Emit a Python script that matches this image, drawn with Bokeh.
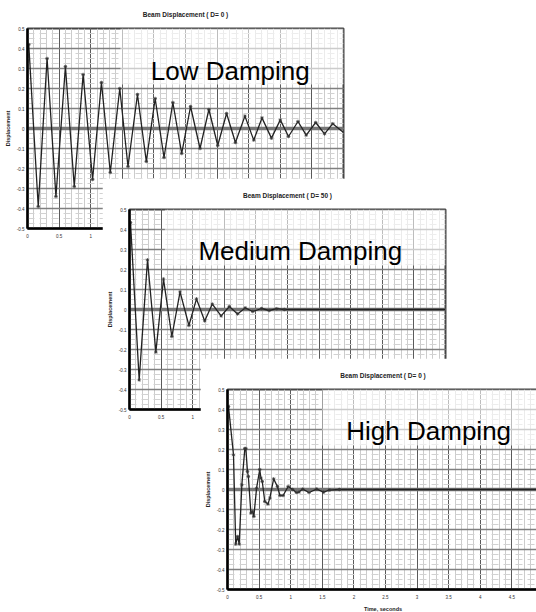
from bokeh.plotting import figure
from bokeh.models import FixedTicker, Span, Label, BoxAnnotation, Column
from bokeh.embed import file_html
from bokeh.resources import INLINE

# ---- data ----
t_low = [0.0, 0.02, 0.17, 0.31, 0.45, 0.60, 0.74, 0.88, 1.03, 1.17, 1.31, 1.46, 1.59, 1.74,
         1.88, 2.02, 2.16, 2.30, 2.44, 2.58, 2.73, 2.87, 3.01, 3.15, 3.29, 3.44, 3.58, 3.71,
         3.86, 4.00, 4.13, 4.28, 4.41, 4.56, 4.70, 4.83, 5.0]
y_low = [0.40, 0.42, -0.39, 0.35, -0.34, 0.31, -0.29, 0.27, -0.255, 0.23, -0.22, 0.20, -0.19, 0.17,
         -0.165, 0.15, -0.145, 0.13, -0.125, 0.11, -0.10, 0.095, -0.085, 0.075, -0.07, 0.062, -0.058, 0.053,
         -0.048, 0.043, -0.04, 0.035, -0.033, 0.03, -0.027, 0.024, -0.02]

t_med = [0.0, 0.016, 0.153, 0.285, 0.417, 0.538, 0.67, 0.80, 0.94, 1.06, 1.19, 1.31, 1.45, 1.58,
         1.71, 1.83, 1.95, 2.09, 2.21, 2.33, 2.45, 5.0]
y_med = [0.42, 0.435, -0.352, 0.248, -0.213, 0.152, -0.135, 0.088, -0.08, 0.053, -0.057, 0.027, -0.032, 0.015,
         -0.022, 0.008, -0.01, 0.005, -0.005, 0.004, 0.0, 0.0]

t_high = [0.0, 0.016, 0.095, 0.13, 0.16, 0.185, 0.227, 0.274, 0.29, 0.316, 0.33, 0.37, 0.396, 0.417,
          0.46, 0.51, 0.53, 0.55, 0.59, 0.64, 0.67, 0.73, 0.79, 0.83, 0.88, 0.96, 1.03, 1.09, 1.13,
          1.19, 1.29, 1.41, 1.52, 1.61, 1.77, 5.0]
y_high = [0.40, 0.415, 0.173, -0.273, -0.235, -0.273, 0.023, 0.205, 0.205, 0.09, 0.065, -0.118, -0.11, -0.135,
          0.007, 0.10, 0.057, 0.04, -0.06, -0.073, -0.043, 0.053, 0.015, -0.03, -0.03, 0.015, 0.0, -0.015, -0.013,
          0.002, -0.015, 0.002, -0.013, -0.003, 0.0, 0.0]

x_ticks = [0, 0.5, 1, 1.5, 2, 2.5, 3, 3.5, 4, 4.5, 5]
x_tick_labels = ["0", "0.5", "1", "1.5", "2", "2.5", "3", "3.5", "4", "4.5", "5"]
y_ticks = [-0.5, -0.4, -0.3, -0.2, -0.1, 0, 0.1, 0.2, 0.3, 0.4, 0.5]
y_tick_labels = ["-0.5", "-0.4", "-0.3", "-0.2", "-0.1", "0", "0.1", "0.2", "0.3", "0.4", "0.5"]

titles = ["Beam Displacement ( D= 0 )", "Beam Displacement ( D= 50 )", "Beam Displacement ( D= 0 )"]
labels = ["Low Damping", "Medium Damping", "High Damping"]

NARROW = "'Liberation Sans Narrow', 'Liberation Sans', Arial, sans-serif"
x_minor = [round(i * 0.1, 2) for i in range(0, 51)]
y_minor = [round(i * 0.025, 3) for i in range(-20, 21)]


def make_chart(title, title_off, t, y, label, lab_x, lab_y, fade_left, frame_w, x_end,
               left, bottom, right):
    p = figure(output_backend="svg", toolbar_location=None,
               frame_width=frame_w, frame_height=200,
               x_range=(0, x_end), y_range=(-0.5, 0.5),
               min_border_left=left, min_border_top=31,
               min_border_bottom=bottom, min_border_right=right,
               title=title)
    p.background_fill_color = "white"
    p.border_fill_color = "white"
    p.outline_line_color = "#444444"
    p.outline_line_width = 2

    p.title.text_font = NARROW
    p.title.text_font_size = "6.5px"
    p.title.text_font_style = "bold"
    p.title.text_color = "#222222"
    p.title.align = "center"
    p.title.standoff = 21
    p.title.offset = title_off

    p.xaxis.ticker = FixedTicker(ticks=x_ticks, minor_ticks=x_minor)
    p.yaxis.ticker = FixedTicker(ticks=y_ticks, minor_ticks=y_minor)
    p.xaxis.major_label_overrides = dict(zip(x_ticks, x_tick_labels))
    p.yaxis.major_label_overrides = dict(zip(y_ticks, y_tick_labels))
    for ax in (p.xaxis, p.yaxis):
        ax.axis_line_color = "black"
        ax.axis_line_width = 2.5
        ax.major_tick_line_color = None
        ax.minor_tick_line_color = None
        ax.major_tick_out = 0
        ax.major_tick_in = 0
        ax.minor_tick_out = 0
        ax.minor_tick_in = 0
        ax.major_label_text_font = NARROW
        ax.major_label_text_font_size = "4.5px"
        ax.major_label_text_color = "#333333"
        ax.axis_label_text_font = NARROW
        ax.axis_label_text_font_size = "5.5px"
        ax.axis_label_text_font_style = "bold"
        ax.axis_label_text_color = "#222222"
    p.yaxis.major_label_standoff = 3
    p.yaxis.axis_label_standoff = 3
    p.xaxis.major_label_standoff = 5
    p.xaxis.axis_label_standoff = 4
    p.yaxis.axis_label = "Displacement"
    p.xaxis.axis_label = "Time, seconds"

    p.xgrid.grid_line_color = "#5a5a5a"
    p.xgrid.grid_line_width = 1
    p.ygrid.grid_line_color = "#808080"
    p.ygrid.grid_line_width = 1.6
    p.xgrid.minor_grid_line_color = "#cccccc"
    p.xgrid.minor_grid_line_width = 1
    p.ygrid.minor_grid_line_color = "#d2d2d2"
    p.ygrid.minor_grid_line_width = 1
    p.ygrid.minor_grid_line_dash = "7 5"

    fade = BoxAnnotation(left=fade_left, right=5, bottom=0.22, top=0.5,
                         fill_color="white", fill_alpha=0.6, line_color=None,
                         level="underlay")
    p.add_layout(fade)
    p.add_layout(Span(location=0, dimension="width", line_color="#777777",
                      line_width=3.5, level="underlay"))

    p.line(t, y, line_color="#222222", line_width=1.3)
    p.scatter(t[:-1], y[:-1], marker="asterisk", size=3.5, line_color="#333333", line_width=0.8)

    p.add_layout(Label(x=lab_x, y=lab_y, text=label, text_font="Liberation Sans",
                       text_font_size="26px", text_color="black",
                       text_baseline="alphabetic", text_align="left"))
    return p


p1 = make_chart(titles[0], 3, t_low, y_low, labels[0], 1.95, 0.29, 1.47, 316, 5.0, 27, 22, 3)
p2 = make_chart(titles[1], 2, t_med, y_med, labels[1], 1.09, 0.295, 0.56, 316, 5.0, 25, 22, 3)
p3 = make_chart(titles[2], 3, t_high, y_high, labels[2], 1.88, 0.295, 1.5, 311, 311 / 63.2, 25, 23, 0)

p1.styles = {"position": "absolute", "left": "0px", "top": "-3px"}
p2.styles = {"position": "absolute", "left": "102px", "top": "178px"}
p3.styles = {"position": "absolute", "left": "200px", "top": "358px"}

root = Column(children=[p1, p2, p3], width=536, height=612, sizing_mode="fixed",
              styles={"position": "relative", "overflow": "hidden", "background-color": "white"})

open("out.html", "w").write(file_html(root, INLINE))
